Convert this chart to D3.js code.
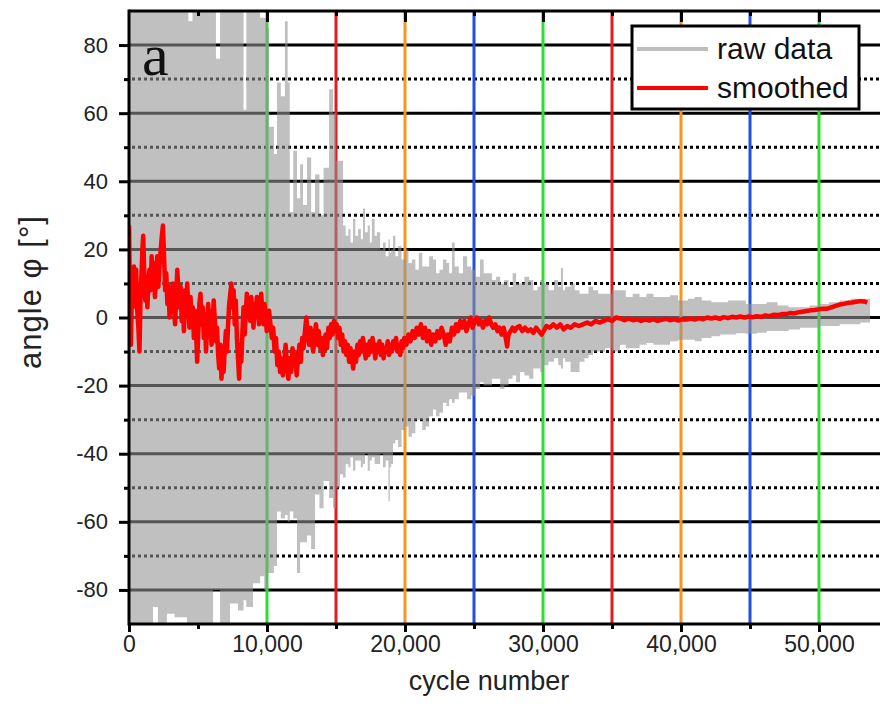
<!DOCTYPE html>
<html>
<head>
<meta charset="utf-8">
<script src="https://cdn.jsdelivr.net/npm/d3@7"></script>
<style>
body { margin: 0; background: #fff; }
svg { display: block; font-family: "Liberation Sans", Arial, sans-serif; }
</style>
</head>
<body>
<svg width="880" height="718"></svg>
<script>
"use strict";

// vertical marker lines (cycle number) and their colours
var markerCycles = [10000, 15000, 20000, 25000, 30000, 35000, 40000, 45000, 50000];
var markerColours = ["#2ee02e", "#e41c1c", "#f7951e", "#1f4fe6", "#2ee02e",
    "#e41c1c", "#f7951e", "#1f4fe6", "#2ee02e"];

var yMajorTicks = [-80, -60, -40, -20, 0, 20, 40, 60, 80];
var yMinorTicks = [-70, -50, -30, -10, 10, 30, 50, 70];
var xMajorTicks = [0, 10000, 20000, 30000, 40000, 50000];
var xMinorTicks = [5000, 15000, 25000, 35000, 45000];

// envelope of the raw data (max / min angle per cycle segment)
var rawCycles = [0, 1740, 2100, 2750, 3300, 4200, 4300, 4600, 6090, 6300,
    6600, 7320, 7900, 8300, 8500, 8985, 9500, 9800, 10000, 10150,
    10500, 10724, 11000, 11300, 11500, 11650, 11900, 12173, 12400, 12608,
    12900, 13200, 13478, 13800, 14100, 14500, 14783, 15000, 15290, 15507,
    15700, 15900, 16050, 16232, 16400, 16600, 16800, 16956, 17100, 17300,
    17450, 17600, 17800, 17971, 18200, 18400, 18600, 18800, 18900, 19000,
    19130, 19300, 19500, 19750, 20000, 20250, 20500, 20750, 21000, 21250,
    21500, 21750, 22029, 22250, 22500, 22750, 23000, 23200, 23400, 23600,
    23900, 24200, 24500, 24800, 25100, 25434, 25700, 26000, 26300, 26600,
    26900, 27200, 27500, 27800, 28050, 28333, 28650, 29000, 29300, 29600,
    29800, 30000, 30400, 30800, 31100, 31300, 31450, 31600, 32000, 32300,
    32650, 33000, 33300, 33623, 34000, 34500, 35000, 35580, 36000, 36500,
    37000, 37500, 38000, 38500, 39203, 39800, 40500, 41000, 41500, 42200,
    42826, 43400, 44000, 44700, 45500, 46200, 47000, 47800, 48623, 49300,
    50000, 50700, 51500, 52300, 53000, 53700];
var rawMax = [95, 95, 95, 95, 95, 95, 87, 95, 95, 76,
    95, 95, 95, 61, 95, 90, 88, 88, 85, 56,
    48, 69, 65, 87, 69, 31, 49, 35, 45, 33,
    47, 31, 42, 30, 44, 67, 60, 46, 46, 27,
    24, 26, 22, 29, 24, 26, 23, 32, 25, 27,
    22, 29, 24, 25, 20, 22, 18, 23, 19, 20,
    24, 18, 21, 17, 20, 16, 17, 14, 19, 15,
    15, 18, 17, 13, 14, 17, 16, 13, 22, 15,
    13, 18, 15, 14, 12, 17, 13, 13, 11, 12,
    10, 11, 9, 13, 10, 10, 12, 11, 8, 9,
    11, 10, 8, 11, 9, 14.5, 8, 9, 10, 8,
    7, 7, 9, 8, 7, 7, 8, 8, 6, 7,
    6, 7, 6, 6, 6.5, 5, 5.5, 6, 5, 4.5,
    4.5, 5, 5, 4, 4, 4.5, 3.5, 3, 3, 3.5,
    4, 4.5, 5, 5.5, 5.5, 5.5];
var rawMin = [-95, -85, -95, -87, -88, -95, -95, -95, -80, -80,
    -95, -84, -86, -83, -85, -78, -76, -80, -75, -75,
    -73, -57, -59, -58, -60, -57, -59, -75, -66, -66,
    -64, -68, -52, -56, -48, -53, -56, -50, -46, -47,
    -43, -44, -41, -45, -42, -42, -44, -43, -40, -45,
    -42, -41, -43, -43, -40, -44, -42, -54, -44, -43,
    -37, -36, -38, -33, -32, -35, -34, -30, -30, -33,
    -32, -29, -27, -29, -28, -25, -26, -24, -25, -24,
    -22, -22, -24, -23, -21, -19, -20, -20, -18, -18,
    -21, -20, -18, -17, -19, -16, -17, -18, -15, -15,
    -16, -14, -13, -12, -14, -15, -12, -13, -16, -16,
    -13, -12, -11, -10, -10, -9, -10, -8, -9, -9,
    -8, -7.5, -8, -8, -7, -6.5, -6.5, -7, -6, -5.5,
    -5, -5, -4.6, -4.8, -4.5, -4, -4, -3.5, -3, -3,
    -2.5, -2.5, -2, -2, -1.5, -1.5];

// smoothed angle
var smoothCycles = [0, 70, 140, 220, 290, 360, 430, 520, 600, 680,
    760, 830, 900, 970, 1030, 1100, 1180, 1250, 1330, 1400,
    1480, 1560, 1640, 1720, 1800, 1880, 1960, 2050, 2130, 2210,
    2300, 2380, 2460, 2540, 2620, 2700, 2780, 2860, 2940, 3020,
    3100, 3180, 3260, 3340, 3420, 3500, 3580, 3660, 3740, 3820,
    3900, 3980, 4060, 4140, 4220, 4300, 4380, 4460, 4540, 4620,
    4700, 4780, 4860, 4940, 5020, 5100, 5180, 5260, 5340, 5420,
    5500, 5580, 5660, 5740, 5820, 5900, 5980, 6060, 6140, 6220,
    6300, 6380, 6460, 6540, 6620, 6700, 6780, 6860, 6940, 7020,
    7100, 7180, 7260, 7340, 7420, 7500, 7580, 7660, 7740, 7820,
    7900, 7980, 8060, 8140, 8220, 8300, 8380, 8460, 8540, 8620,
    8700, 8780, 8860, 8940, 9020, 9100, 9180, 9260, 9340, 9420,
    9500, 9580, 9660, 9740, 9820, 9900, 9980, 10060, 10150, 10250,
    10350, 10450, 10550, 10650, 10750, 10850, 10950, 11050, 11150, 11250,
    11350, 11450, 11550, 11650, 11750, 11850, 11950, 12050, 12150, 12250,
    12350, 12450, 12550, 12650, 12750, 12850, 12950, 13050, 13150, 13250,
    13350, 13450, 13550, 13650, 13750, 13850, 13950, 14050, 14150, 14250,
    14350, 14450, 14550, 14650, 14750, 14850, 14950, 15050, 15150, 15250,
    15350, 15450, 15550, 15650, 15750, 15850, 15950, 16050, 16150, 16250,
    16350, 16450, 16550, 16650, 16750, 16850, 16950, 17050, 17150, 17250,
    17350, 17450, 17550, 17650, 17750, 17850, 17950, 18050, 18150, 18250,
    18350, 18450, 18550, 18650, 18750, 18850, 18950, 19050, 19150, 19250,
    19350, 19450, 19550, 19650, 19750, 19850, 19950, 20100, 20250, 20400,
    20550, 20700, 20850, 21000, 21150, 21300, 21450, 21600, 21750, 21900,
    22050, 22200, 22350, 22500, 22650, 22800, 22950, 23100, 23250, 23400,
    23550, 23700, 23850, 24000, 24150, 24300, 24450, 24600, 24750, 24900,
    25050, 25200, 25350, 25500, 25650, 25800, 25950, 26100, 26250, 26400,
    26550, 26700, 26850, 27000, 27150, 27300, 27400, 27500, 27650, 27800,
    27950, 28100, 28300, 28500, 28700, 28900, 29100, 29300, 29500, 29700,
    29900, 30050, 30250, 30500, 30750, 31000, 31250, 31500, 31750, 32000,
    32300, 32600, 32900, 33200, 33500, 33800, 34100, 34400, 34700, 35000,
    35300, 35600, 35900, 36200, 36500, 36800, 37100, 37400, 37700, 38000,
    38300, 38600, 38900, 39200, 39500, 39800, 40100, 40400, 40700, 41000,
    41300, 41600, 41900, 42200, 42500, 42800, 43100, 43400, 43700, 44000,
    44300, 44600, 44900, 45200, 45500, 45800, 46100, 46400, 46700, 47000,
    47300, 47600, 47900, 48200, 48500, 48800, 49100, 49400, 49700, 50000,
    50300, 50600, 50900, 51200, 51500, 51800, 52100, 52400, 52700, 53000,
    53300, 53500];
var smoothAngles = [27, 5, -8, 12, 3, 15, 6, 14, 2, -3,
    -10, 5, 12, 20, 24, 14, 5, 12, 3, 9,
    14, 8, 18, 10, 16, 6, 12, 18, 9, 15,
    20, 24, 27, 18, 8, 13, 4, 9, 0, 7,
    2, 10, 3, -2, 6, 14, 8, 3, 9, -1,
    5, -4, 8, 1, 10, 2, -3, 6, -2, 3,
    -6, 2, -4, -13, -5, 4, 7, -2, 3, -6,
    1, -10, -3, 4, -4, 2, -8, -2, 5, -1,
    -7, -3, -11, -15, -8, -18, -12, -16, -9, -4,
    -10, -2, 4, 7, 10, 3, 8, -2, 5, -6,
    -12, -18, -8, -13, -4, 3, -5, 1, 7, 2,
    5, -1, 6, 2, -3, 4, 0, 6, 3, -2,
    4, 7, 2, -2, 4, 1, -4, -1, 2, -2,
    -6, -3, -10, -6, -14, -10, -16, -12, -17, -13,
    -8, -14, -18, -12, -16, -9, -14, -11, -17, -12,
    -8, -13, -6, -9, -4, 0, -5, -8, -3, -7,
    -10, -5, -2, -8, -4, -9, -6, -11, -7, -5,
    -9, -3, -6, -2, -5, -1, -4, -2, -6, -3,
    -8, -5, -10, -7, -11, -8, -13, -9, -12, -15,
    -10, -13, -8, -11, -7, -10, -6, -9, -12, -8,
    -11, -7, -10, -6, -9, -12, -8, -10, -7, -11,
    -8, -12, -9, -10, -7, -11, -8, -10, -7, -9,
    -6, -10, -8, -11, -7, -9, -6, -8, -5, -7,
    -4, -6, -3, -5, -2, -6, -3, -7, -4, -8,
    -5, -7, -4, -6, -3, -5, -8, -5, -7, -3,
    -5, -2, -4, -1, -3, -1, -4, -2, 0, -3,
    -1, 0, -2, -1, -3, -1, -2, 0, -2, -3,
    -2, -4, -3, -5, -3, -6, -8.5, -5, -4, -3,
    -4, -3, -2.5, -4, -3, -4, -3.5, -4.5, -3, -4,
    -5, -4, -2.5, -3, -2, -3, -2, -3.5, -2.5, -3,
    -2, -2.5, -2, -1.5, -2, -1, -1.5, -1, -0.5, -1,
    0, -0.3, -0.8, -0.3, -0.8, -0.5, -1, -0.6, -0.9, -0.5,
    -1, -0.7, -0.4, -0.8, -0.5, -0.9, -0.5, -0.6, -0.3, -0.6,
    -0.2, -0.5, 0, -0.3, 0, -0.4, 0.1, -0.2, 0.2, 0,
    0.3, 0, 0.3, 0.1, 0.4, 0.2, 0.6, 0.4, 0.8, 0.7,
    1, 1, 1.3, 1.2, 1.5, 1.7, 1.9, 2.1, 2.2, 2.4,
    2.6, 2.6, 3.0, 3.4, 3.8, 4.0, 4.3, 4.4, 4.6, 4.8,
    4.7, 4.4];

var svg = d3.select("svg");
var plot = {left: 129, right: 888, top: 11, bottom: 624};
var viewRight = 880;

var x = d3.scaleLinear().domain([0, 55000]).range([plot.left, plot.right]);
var y = d3.scaleLinear().domain([-90, 90]).range([plot.bottom, plot.top]);

svg.append("defs").append("clipPath")
    .attr("id", "plot-clip")
    .append("rect")
    .attr("x", plot.left)
    .attr("y", plot.top)
    .attr("width", plot.right - plot.left)
    .attr("height", plot.bottom - plot.top);

var grid = svg.append("g").attr("class", "grid");
grid.selectAll("line.major")
    .data(yMajorTicks)
    .enter().append("line")
    .attr("class", "major")
    .attr("x1", plot.left).attr("x2", viewRight)
    .attr("y1", y).attr("y2", y)
    .attr("stroke", "#000").attr("stroke-width", 3);
grid.selectAll("line.minor")
    .data(yMinorTicks)
    .enter().append("line")
    .attr("class", "minor")
    .attr("x1", plot.left + 3).attr("x2", viewRight)
    .attr("y1", y).attr("y2", y)
    .attr("stroke", "#000").attr("stroke-width", 3)
    .attr("stroke-dasharray", "3,3");

svg.append("g").attr("class", "markers")
    .selectAll("line")
    .data(markerCycles)
    .enter().append("line")
    .attr("x1", x).attr("x2", x)
    .attr("y1", plot.top).attr("y2", plot.bottom)
    .attr("stroke", function (d, i) {
        return markerColours[i];
    })
    .attr("stroke-width", 3);

var rawData = rawCycles.map(function (c, i) {
    return {cycle: c, max: rawMax[i], min: rawMin[i]};
});
var rawArea = d3.area()
    .curve(d3.curveStepAfter)
    .x(function (d) {
        return x(d.cycle);
    })
    .y0(function (d) {
        return y(d.min);
    })
    .y1(function (d) {
        return y(d.max);
    });

var data = svg.append("g").attr("clip-path", "url(#plot-clip)");
data.append("path")
    .datum(rawData)
    .attr("d", rawArea)
    .attr("fill", "#929292")
    .attr("fill-opacity", 0.58);

var smoothData = smoothCycles.map(function (c, i) {
    return [c, smoothAngles[i]];
});
var smoothLine = d3.line()
    .x(function (d) {
        return x(d[0]);
    })
    .y(function (d) {
        return y(d[1]);
    });
data.append("path")
    .datum(smoothData)
    .attr("d", smoothLine)
    .attr("fill", "none")
    .attr("stroke", "#ff0000")
    .attr("stroke-width", 4.5)
    .attr("stroke-linejoin", "round");

// axes
var styleAxis = function (g) {
    g.selectAll(".domain").remove();
    g.selectAll(".tick line").attr("stroke", "#000").attr("stroke-width", 3);
    g.selectAll("text").attr("fill", "#222");
};
var plainNumber = function (d) {
    return String(d);
};

svg.append("g")
    .attr("transform", "translate(" + plot.left + ",0)")
    .call(d3.axisLeft(y).tickValues(yMinorTicks).tickSize(5)
        .tickFormat(""))
    .call(styleAxis);
svg.append("g")
    .attr("transform", "translate(" + plot.left + ",0)")
    .call(d3.axisLeft(y).tickValues(yMajorTicks).tickSize(10)
        .tickPadding(11).tickFormat(plainNumber))
    .call(styleAxis)
    .selectAll("text").style("font-size", "22px");

svg.append("g")
    .attr("transform", "translate(0," + plot.bottom + ")")
    .call(d3.axisBottom(x).tickValues(xMinorTicks).tickSize(5)
        .tickFormat(""))
    .call(styleAxis);
svg.append("g")
    .attr("transform", "translate(0," + plot.bottom + ")")
    .call(d3.axisBottom(x).tickValues(xMajorTicks).tickSize(8)
        .tickPadding(4).tickFormat(d3.format(",")))
    .call(styleAxis)
    .selectAll("text").style("font-size", "23px");

svg.append("g")
    .attr("transform", "translate(0," + plot.top + ")")
    .call(d3.axisTop(x).tickValues(xMinorTicks).tickSize(-5)
        .tickFormat(""))
    .call(styleAxis);
svg.append("g")
    .attr("transform", "translate(0," + plot.top + ")")
    .call(d3.axisTop(x).tickValues(xMajorTicks.slice(1)).tickSize(-11)
        .tickFormat(""))
    .call(styleAxis);

// frame
svg.append("line")
    .attr("x1", plot.left).attr("x2", plot.left)
    .attr("y1", plot.top - 1.5).attr("y2", plot.bottom + 1.5)
    .attr("stroke", "#000").attr("stroke-width", 3);
svg.append("line")
    .attr("x1", plot.left).attr("x2", viewRight)
    .attr("y1", plot.top).attr("y2", plot.top)
    .attr("stroke", "#000").attr("stroke-width", 3);
svg.append("line")
    .attr("x1", plot.left).attr("x2", viewRight)
    .attr("y1", plot.bottom).attr("y2", plot.bottom)
    .attr("stroke", "#000").attr("stroke-width", 3);

// panel letter
svg.append("text")
    .attr("x", 142).attr("y", 75)
    .style("font-family", "'Liberation Serif', 'Times New Roman', serif")
    .style("font-size", "60px")
    .attr("fill", "#111")
    .text("a");

// axis titles
svg.append("text")
    .attr("x", 489)
    .attr("y", 690)
    .attr("text-anchor", "middle")
    .style("font-size", "27px")
    .attr("fill", "#222")
    .text("cycle number");
svg.append("text")
    .attr("transform", "translate(41,292) rotate(-90)")
    .attr("text-anchor", "middle")
    .style("font-size", "31px")
    .style("letter-spacing", "1px")
    .attr("fill", "#222")
    .text("angle φ [°]");

// legend
var legend = svg.append("g").attr("class", "legend");
legend.append("rect")
    .attr("x", 632).attr("y", 26)
    .attr("width", 227).attr("height", 83)
    .attr("fill", "#fff")
    .attr("stroke", "#000").attr("stroke-width", 3);
var legendItems = [
    {label: "raw data", colour: "#bdbdbd"},
    {label: "smoothed", colour: "#ff0000"}
];
legendItems.forEach(function (item, i) {
    var cy = 49 + i * 39;
    legend.append("line")
        .attr("x1", 637).attr("x2", 708)
        .attr("y1", cy).attr("y2", cy)
        .attr("stroke", item.colour).attr("stroke-width", 4);
    legend.append("text")
        .attr("x", 717).attr("y", cy + 10)
        .style("font-size", "30px")
        .attr("fill", "#111")
        .text(item.label);
});
</script>
</body>
</html>
